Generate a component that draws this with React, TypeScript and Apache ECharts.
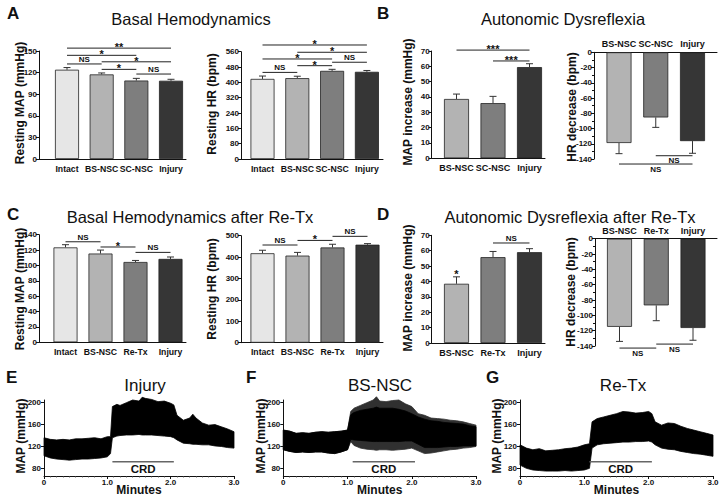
import React, { useEffect, useRef } from "react";
import * as echarts from "echarts";

const FONT = '"Liberation Sans", Arial, Helvetica, sans-serif';

// ---------- Data ----------
const catsBasal = ["Intact", "BS-NSC", "SC-NSC", "Injury"];
const basalMap = [124, 117.5, 109, 108.7];
const basalMapErr = [3, 2, 3, 2];
const basalHr = [418, 422, 460, 455];
const basalHrErr = [15, 10, 8, 7];
const basalMapSig: [number, number, number, string][] = [
  [0, 3, 154, "**"], [0, 2, 144, "*"], [1, 3, 135, "*"], [0, 1, 132, "NS"], [1, 2, 124.5, "*"], [2, 3, 118, "NS"],
];
const basalHrSig: [number, number, number, string][] = [
  [0, 3, 595, "*"], [1, 3, 557, "*"], [0, 2, 522, "*"], [2, 3, 505, "NS"], [1, 2, 487, "*"], [0, 1, 452, "NS"],
];

const catsAD = ["BS-NSC", "SC-NSC", "Injury"];
const adMap = [38.7, 36, 59.5];
const adMapErr = [3.2, 4.4, 2.2];
const adHr = [-119, -85.5, -116.5];
const adHrErr = [14, 13, 16];
const adMapSig: [number, number, number, string][] = [[0, 2, 70.6, "***"], [1, 2, 63.5, "***"]];
const adHrSig: [number, number, number, string][] = [[1, 2, -135.7, "NS"], [0, 2, -146.6, "NS"]];

const catsRetx = ["Intact", "BS-NSC", "Re-Tx", "Injury"];
const retxMap = [123.5, 115.5, 104.5, 108.5];
const retxMapErr = [3.5, 4.5, 2, 2.5];
const retxHr = [418, 407, 445, 458];
const retxHrErr = [14, 15, 15, 5];
const retxMapSig: [number, number, number, string][] = [[0, 1, 130.8, "NS"], [1, 2, 124, "*"], [2, 3, 117, "NS"]];
const retxHrSig: [number, number, number, string][] = [[0, 1, 456.5, "NS"], [1, 2, 478, "*"], [2, 3, 497, "NS"]];

const catsAD2 = ["BS-NSC", "Re-Tx", "Injury"];
const ad2Map = [38.5, 55.8, 59];
const ad2MapErr = [4.5, 3.7, 2.3];
const ad2Hr = [-115, -87, -116.5];
const ad2HrErr = [19, 20, 16];
const ad2MapSig: [number, number, number, string][] = [[0, 0, 47, "*"], [1, 2, 65, "NS"]];
const ad2HrSig: [number, number, number, string][] = [[0, 1, -142.7, "NS"], [1, 2, -137.5, "NS"]];

// MAP traces (envelopes, minutes vs mmHg)
const injT = [0, 0.1, 0.2, 0.3, 0.4, 0.5, 0.6, 0.7, 0.8, 0.9, 1.0, 1.05, 1.08, 1.15, 1.2, 1.3, 1.4, 1.5, 1.55, 1.6, 1.7, 1.8, 1.9, 2.0, 2.05, 2.1, 2.2, 2.3, 2.35, 2.4, 2.5, 2.6, 2.7, 2.8, 2.9, 3.0];
const injHi = [136, 133, 132, 133, 132, 134, 134, 135, 136, 134, 138, 138, 193, 197, 195, 200, 205, 203, 210, 208, 206, 202, 203, 199, 196, 177, 168, 172, 179, 172, 163, 159, 160, 156, 152, 147];
const injLo = [103, 99, 97, 96, 95, 96, 97, 97, 98, 99, 101, 107, 136, 139, 140, 141, 141, 142, 141, 141, 141, 140, 139, 138, 136, 132, 126, 125, 124, 124, 123, 123, 121, 120, 118, 117];

const bsT = [0, 0.1, 0.2, 0.3, 0.4, 0.5, 0.6, 0.7, 0.8, 0.9, 1.0, 1.05, 1.1, 1.2, 1.3, 1.4, 1.45, 1.5, 1.6, 1.7, 1.8, 1.9, 2.0, 2.1, 2.2, 2.3, 2.4, 2.5, 2.6, 2.7, 2.8, 2.9, 3.0];
const bsHi = [150, 148, 144, 145, 144, 146, 147, 146, 147, 148, 150, 184, 190, 195, 200, 205, 211, 203, 202, 204, 205, 198, 193, 180, 177, 172, 171, 170, 168, 167, 165, 162, 159];
const bsLo = [114, 111, 109, 110, 109, 110, 110, 108, 107, 110, 114, 129, 122, 117, 115, 114, 113, 114, 114, 113, 114, 115, 117, 112, 107, 108, 110, 112, 114, 115, 117, 118, 120];
const bsInHi = [150, 148, 144, 145, 144, 146, 147, 146, 147, 148, 150, 178, 182, 186, 188, 190, 192, 190, 190, 190, 188, 185, 180, 174, 170, 167, 166, 164, 163, 162, 161, 158, 156];
const bsInLo = [114, 111, 109, 110, 109, 110, 110, 108, 107, 110, 114, 133, 132, 131, 130, 129, 129, 129, 129, 129, 129, 130, 130, 124, 118, 118, 118, 119, 120, 120, 121, 121, 121];

const reT = [0, 0.1, 0.2, 0.3, 0.4, 0.5, 0.6, 0.7, 0.8, 0.9, 1.0, 1.08, 1.12, 1.2, 1.3, 1.4, 1.5, 1.6, 1.7, 1.8, 1.9, 2.0, 2.05, 2.1, 2.2, 2.3, 2.4, 2.5, 2.6, 2.7, 2.8, 2.9, 3.0];
const reHi = [123, 117, 114, 116, 112, 113, 114, 116, 117, 119, 123, 125, 165, 171, 174, 177, 180, 184, 183, 181, 182, 184, 180, 165, 159, 163, 162, 157, 153, 150, 147, 144, 141];
const reLo = [86, 80, 77, 76, 75, 75, 75, 76, 75, 76, 77, 80, 117, 123, 125, 126, 127, 128, 128, 129, 129, 130, 128, 123, 117, 115, 114, 111, 109, 107, 106, 104, 102];

const crdSpan: [number, number, number, string][] = [[1.08, 2.05, 92, "CRD"]];
const mapTicks = [80, 120, 160, 200];

const barColors: Record<string, string> = {
  Intact: "#e6e6e6",
  "BS-NSC": "#b3b3b3",
  "SC-NSC": "#7e7e7e",
  "Re-Tx": "#7e7e7e",
  Injury: "#363636",
};

const INK = "#111";

type Opt = { grid: any[]; xAxis: any[]; yAxis: any[]; series: any[]; graphic: any[] };

function sigSeries(gi: number, sig: [number, number, number, string][], below: boolean, opts: any = {}) {
  return {
    type: "custom",
    xAxisIndex: gi,
    yAxisIndex: gi,
    silent: true,
    clip: false,
    encode: { x: [0, 1], y: 2 },
    data: sig.map((s) => [s[0], s[1], s[2]]),
    renderItem: (params: any, api: any) => {
      const s = sig[params.dataIndex];
      const p1 = api.coord([s[0], s[2]]);
      const p2 = api.coord([s[1], s[2]]);
      const children: any[] = [];
      if (s[0] !== s[1]) {
        children.push({
          type: "line",
          shape: { x1: p1[0], y1: p1[1], x2: p2[0], y2: p2[1] },
          style: { stroke: opts.lineColor || "#222", lineWidth: opts.lineWidth || 1 },
        });
      }
      const star = s[3].indexOf("*") >= 0;
      const fs = opts.fontSize || (star ? 11 : 8);
      const mx = (p1[0] + p2[0]) / 2;
      let ty: number;
      let va: string;
      if (s[0] === s[1]) {
        ty = p1[1] + (star ? 3 : 0);
        va = "middle";
      } else if (below) {
        ty = p1[1] + 1;
        va = "top";
      } else {
        ty = p1[1] + (star ? 4.5 : -0.5);
        va = "bottom";
      }
      children.push({
        type: "text",
        x: mx,
        y: ty,
        style: {
          text: s[3],
          fontSize: fs,
          fontWeight: "bold",
          fontFamily: FONT,
          fill: INK,
          align: "center",
          verticalAlign: va,
        },
      });
      return { type: "group", children };
    },
  };
}

function barPanel(o: Opt, cfg: any) {
  const gi = o.grid.length;
  o.grid.push({ left: cfg.left, top: cfg.top, width: cfg.right - cfg.left, height: cfg.height, outerBoundsMode: "none", containLabel: false });
  const xmin = (cfg.left - cfg.c0) / cfg.sp;
  const xmax = (cfg.right - cfg.c0) / cfg.sp;
  const idx = cfg.cats.map((_: any, i: number) => i);
  const ls = { color: INK, width: 1 };
  o.xAxis.push({
    gridIndex: gi,
    type: "value",
    min: xmin,
    max: xmax,
    position: cfg.topAxis ? "top" : "bottom",
    axisLine: { show: true, onZero: false, lineStyle: ls },
    axisTick: { show: false },
    splitLine: { show: false },
    axisLabel: {
      customValues: idx,
      formatter: (v: number) => cfg.cats[Math.round(v)] ?? "",
      fontSize: cfg.cats.length > 3 ? 8.7 : 9,
      fontWeight: "bold",
      fontFamily: FONT,
      color: INK,
      margin: cfg.topAxis ? 3.5 : 5,
      hideOverlap: false,
      showMinLabel: true,
      showMaxLabel: true,
    },
  });
  o.yAxis.push({
    gridIndex: gi,
    type: "value",
    min: cfg.ymin,
    max: cfg.ymax,
    interval: cfg.interval,
    axisLine: { show: true, onZero: false, lineStyle: ls },
    axisTick: { show: true, length: 3, lineStyle: ls },
    minorTick: { show: !!cfg.minor, splitNumber: 2, length: 2, lineStyle: { color: INK, width: 1 } },
    splitLine: { show: false },
    minorSplitLine: { show: false },
    axisLabel: { fontSize: 8, fontWeight: "bold", fontFamily: FONT, color: INK, margin: 2, showMinLabel: true, showMaxLabel: true },
  });
  o.series.push({
    type: "bar",
    xAxisIndex: gi,
    yAxisIndex: gi,
    barWidth: cfg.bw,
    silent: true,
    data: cfg.values.map((v: number, i: number) => ({
      value: [i, v],
      itemStyle: { color: barColors[cfg.cats[i]], borderColor: "#222", borderWidth: 0.8 },
    })),
  });
  o.series.push({
    type: "custom",
    xAxisIndex: gi,
    yAxisIndex: gi,
    silent: true,
    clip: false,
    encode: { x: 0, y: 1 },
    data: cfg.values.map((v: number, i: number) => [i, v, cfg.errs[i]]),
    renderItem: (params: any, api: any) => {
      const i = api.value(0);
      const v = api.value(1);
      const e = api.value(2);
      const p0 = api.coord([i, v]);
      const p1 = api.coord([i, v < 0 ? v - e : v + e]);
      const st = { stroke: "#333", lineWidth: 1 };
      return {
        type: "group",
        children: [
          { type: "line", shape: { x1: p0[0], y1: p0[1], x2: p1[0], y2: p1[1] }, style: st },
          { type: "line", shape: { x1: p1[0] - 3.5, y1: p1[1], x2: p1[0] + 3.5, y2: p1[1] }, style: st },
        ],
      };
    },
  });
  o.series.push(sigSeries(gi, cfg.sig, !!cfg.sigBelow));
  o.graphic.push({
    type: "text",
    x: cfg.nameX,
    y: cfg.nameY,
    rotation: Math.PI / 2,
    style: { text: cfg.name, fontSize: 12, fontWeight: "bold", fontFamily: FONT, fill: INK, align: "center", verticalAlign: "middle" },
  });
}

function bandSeries(gi: number, T: number[], hi: number[], lo: number[], color: string) {
  return {
    type: "custom",
    xAxisIndex: gi,
    yAxisIndex: gi,
    silent: true,
    clip: false,
    encode: { x: 0, y: 1 },
    data: T.map((t, i) => [t, hi[i], lo[i]]),
    renderItem: (params: any, api: any) => {
      if (params.dataIndex !== 0) return null;
      const pts: number[][] = [];
      for (let i = 0; i < T.length; i++) pts.push(api.coord([T[i], hi[i]]));
      for (let i = T.length - 1; i >= 0; i--) pts.push(api.coord([T[i], lo[i]]));
      return {
        type: "polygon",
        shape: { points: pts },
        style: { fill: color, stroke: color, lineWidth: 0.8, lineJoin: "round" },
      };
    },
  };
}

function tracePanel(o: Opt, cfg: any) {
  const gi = o.grid.length;
  o.grid.push({ left: cfg.left, top: 400, width: cfg.width, height: 76, outerBoundsMode: "none", containLabel: false });
  const ls = { color: INK, width: 1 };
  o.xAxis.push({
    gridIndex: gi,
    type: "value",
    min: 0,
    max: 3,
    interval: 1,
    axisLine: { show: true, onZero: false, lineStyle: ls },
    axisTick: { show: true, length: 3, lineStyle: ls },
    minorTick: { show: true, splitNumber: 10, length: 1.5, lineStyle: { color: "#444", width: 0.8 } },
    splitLine: { show: false },
    minorSplitLine: { show: false },
    axisLabel: {
      formatter: (v: number) => (v === 0 ? "0" : v.toFixed(1)),
      fontSize: 8,
      fontWeight: "bold",
      fontFamily: FONT,
      color: INK,
      margin: 2,
      hideOverlap: false,
      showMinLabel: true,
      showMaxLabel: true,
    },
  });
  o.yAxis.push({
    gridIndex: gi,
    type: "value",
    min: 66,
    max: 205,
    axisLine: { show: true, onZero: false, lineStyle: ls },
    axisTick: { show: true, length: 3, customValues: mapTicks, lineStyle: ls },
    splitLine: { show: false },
    axisLabel: { customValues: mapTicks, fontSize: 8, fontWeight: "bold", fontFamily: FONT, color: INK, margin: 3 },
  });
  for (const b of cfg.bands) o.series.push(bandSeries(gi, b[0], b[1], b[2], b[3]));
  o.series.push(sigSeries(gi, crdSpan, true, { fontSize: 11.5, lineColor: "#666", lineWidth: 1.5 }));
  o.graphic.push({
    type: "text",
    x: cfg.nameX,
    y: 436,
    rotation: Math.PI / 2,
    style: { text: "MAP (mmHg)", fontSize: 12, fontWeight: "bold", fontFamily: FONT, fill: INK, align: "center", verticalAlign: "middle" },
  });
  o.graphic.push({
    type: "text",
    x: cfg.left + cfg.width / 2,
    y: 490,
    style: { text: "Minutes", fontSize: 12, fontWeight: "bold", fontFamily: FONT, fill: INK, align: "center", verticalAlign: "middle" },
  });
  o.graphic.push({
    type: "text",
    x: cfg.titleX,
    y: 385,
    style: { text: cfg.title, fontSize: 17, fontFamily: FONT, fill: INK, align: "center", verticalAlign: "middle" },
  });
}

function buildOption() {
  const o: Opt = { grid: [], xAxis: [], yAxis: [], series: [], graphic: [] };

  barPanel(o, { cats: catsBasal, values: basalMap, errs: basalMapErr, sig: basalMapSig, left: 39, right: 186, top: 51, height: 108, c0: 67, sp: 34.67, bw: 24, ymin: 0, ymax: 150, interval: 30, name: "Resting MAP (mmHg)", nameX: 20, nameY: 103 });
  barPanel(o, { cats: catsBasal, values: basalHr, errs: basalHrErr, sig: basalHrSig, left: 241, right: 383, top: 51.7, height: 107.3, c0: 262.5, sp: 34.8, bw: 24, ymin: 0, ymax: 560, interval: 80, name: "Resting HR (bpm)", nameX: 212, nameY: 104 });
  barPanel(o, { cats: catsAD, values: adMap, errs: adMapErr, sig: adMapSig, left: 431.7, right: 545, top: 51, height: 107.3, c0: 456.5, sp: 36.5, bw: 25, ymin: 0, ymax: 70, interval: 10, name: "MAP increase (mmHg)", nameX: 408, nameY: 102 });
  barPanel(o, { cats: catsAD, values: adHr, errs: adHrErr, sig: adHrSig, sigBelow: true, topAxis: true, minor: true, left: 594, right: 717, top: 52.3, height: 106.7, c0: 619, sp: 36.75, bw: 25, ymin: -140, ymax: 0, interval: 20, name: "HR decrease (bpm)", nameX: 572, nameY: 107 });

  barPanel(o, { cats: catsRetx, values: retxMap, errs: retxMapErr, sig: retxMapSig, left: 39, right: 186, top: 234.7, height: 107.6, c0: 65.5, sp: 35, bw: 24, ymin: 0, ymax: 140, interval: 20, name: "Resting MAP (mmHg)", nameX: 20, nameY: 289 });
  barPanel(o, { cats: catsRetx, values: retxHr, errs: retxHrErr, sig: retxHrSig, left: 241, right: 383, top: 235.7, height: 107, c0: 262.5, sp: 35, bw: 24, ymin: 0, ymax: 500, interval: 100, name: "Resting HR (bpm)", nameX: 212, nameY: 289 });
  barPanel(o, { cats: catsAD2, values: ad2Map, errs: ad2MapErr, sig: ad2MapSig, left: 431.7, right: 545, top: 235.3, height: 107.7, c0: 456.5, sp: 36.5, bw: 25, ymin: 0, ymax: 70, interval: 10, name: "MAP increase (mmHg)", nameX: 408, nameY: 288 });
  barPanel(o, { cats: catsAD2, values: ad2Hr, errs: ad2HrErr, sig: ad2HrSig, sigBelow: true, topAxis: true, minor: true, left: 595, right: 717, top: 238.7, height: 107.3, c0: 619.5, sp: 36.75, bw: 25, ymin: -140, ymax: 0, interval: 20, name: "HR decrease (bpm)", nameX: 571, nameY: 292 });

  tracePanel(o, { left: 44, width: 190, nameX: 21, titleX: 145, title: "Injury", bands: [[injT, injHi, injLo, "#000"]] });
  tracePanel(o, { left: 283.3, width: 192.7, nameX: 261, titleX: 380, title: "BS-NSC", bands: [[bsT, bsHi, bsLo, "#303030"], [bsT, bsInHi, bsInLo, "#000"]] });
  tracePanel(o, { left: 520, width: 193, nameX: 497, titleX: 623, title: "Re-Tx", bands: [[reT, reHi, reLo, "#000"]] });

  const letter = (t: string, x: number, y: number) => ({
    type: "text",
    x,
    y,
    style: { text: t, fontSize: 17, fontWeight: "bold", fontFamily: FONT, fill: INK, align: "left", verticalAlign: "middle" },
  });
  const title = (t: string, x: number, y: number) => ({
    type: "text",
    x,
    y,
    style: { text: t, fontSize: 16.5, fontFamily: FONT, fill: INK, align: "center", verticalAlign: "middle" },
  });
  o.graphic.push(
    letter("A", 7, 13),
    letter("B", 377, 13),
    letter("C", 7, 214),
    letter("D", 377, 214),
    letter("E", 6, 377),
    letter("F", 246, 377),
    letter("G", 486, 377),
    title("Basal Hemodynamics", 191, 19),
    title("Autonomic Dysreflexia", 563, 19),
    title("Basal Hemodynamics after Re-Tx", 190, 217),
    title("Autonomic Dysreflexia after Re-Tx", 570, 217)
  );

  return {
    animation: false,
    backgroundColor: "#ffffff",
    textStyle: { fontFamily: FONT },
    grid: o.grid,
    xAxis: o.xAxis,
    yAxis: o.yAxis,
    series: o.series,
    graphic: o.graphic,
  };
}

export default function App() {
  const ref = useRef<HTMLDivElement>(null);
  useEffect(() => {
    if (!ref.current) return;
    const chart = echarts.init(ref.current, undefined, { renderer: "svg" });
    chart.setOption(buildOption() as any);
    return () => chart.dispose();
  }, []);
  return (
    <div
      ref={ref}
      style={{ position: "fixed", left: 0, top: 0, width: 720, height: 498, background: "#fff" }}
    />
  );
}
